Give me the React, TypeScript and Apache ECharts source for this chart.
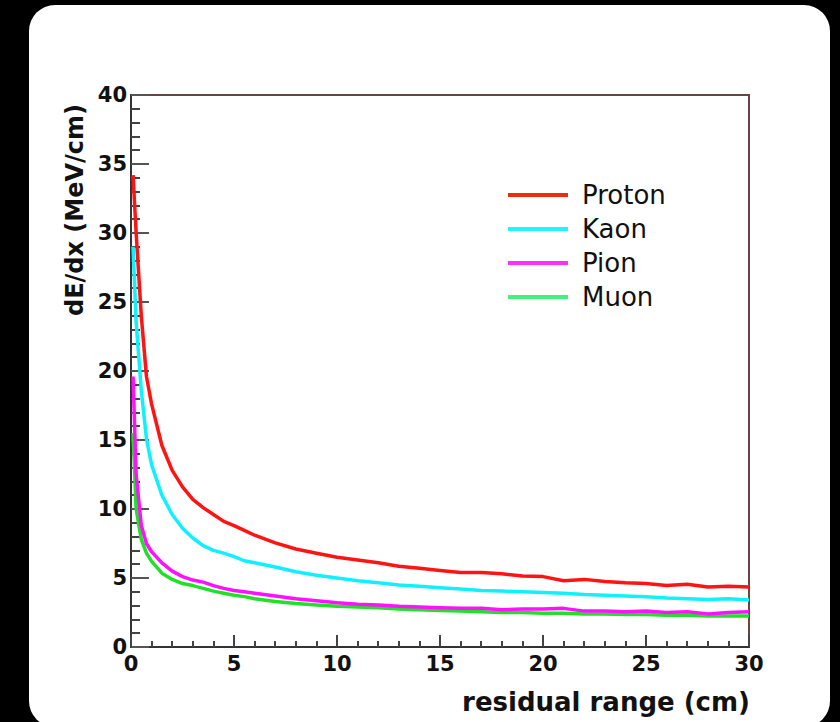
import React, { useEffect, useRef } from "react";
import * as echarts from "echarts";

const seriesNames = ["Proton", "Kaon", "Pion", "Muon"];
const rangeCm = [0.1, 0.25, 0.5, 0.75, 1, 1.5, 2, 2.5, 3, 3.5, 4, 4.5, 5, 5.5, 6, 7, 8, 9, 10, 11, 12, 13, 14, 15, 16, 17, 18, 19, 20, 21, 22, 23, 24, 25, 26, 27, 28, 29, 30];
const proton = [34.2, 30.0, 24.0, 19.6, 17.6, 14.6, 12.8, 11.6, 10.7, 10.1, 9.6, 9.1, 8.8, 8.45, 8.1, 7.55, 7.1, 6.8, 6.5, 6.3, 6.1, 5.85, 5.7, 5.55, 5.4, 5.4, 5.3, 5.15, 5.1, 4.8, 4.9, 4.75, 4.65, 4.6, 4.45, 4.55, 4.35, 4.4, 4.35];
const kaon = [29.0, 23.5, 18.6, 15.1, 13.2, 11.0, 9.6, 8.6, 7.9, 7.35, 7.0, 6.8, 6.55, 6.25, 6.1, 5.8, 5.45, 5.2, 5.0, 4.8, 4.65, 4.5, 4.4, 4.3, 4.2, 4.1, 4.05, 4.0, 3.95, 3.9, 3.8, 3.75, 3.7, 3.65, 3.55, 3.5, 3.45, 3.5, 3.4];
const pion = [19.6, 12.5, 8.8, 7.5, 6.9, 6.1, 5.5, 5.1, 4.85, 4.7, 4.45, 4.25, 4.1, 4.0, 3.9, 3.7, 3.5, 3.35, 3.2, 3.1, 3.05, 2.95, 2.9, 2.85, 2.8, 2.8, 2.7, 2.75, 2.75, 2.8, 2.6, 2.6, 2.55, 2.6, 2.5, 2.55, 2.4, 2.5, 2.55];
const muon = [15.5, 10.0, 7.8, 6.8, 6.2, 5.35, 4.9, 4.6, 4.45, 4.25, 4.05, 3.9, 3.75, 3.65, 3.5, 3.3, 3.15, 3.05, 2.95, 2.9, 2.85, 2.75, 2.7, 2.65, 2.6, 2.55, 2.5, 2.5, 2.45, 2.45, 2.4, 2.4, 2.35, 2.35, 2.3, 2.3, 2.25, 2.25, 2.25];
const colors = ["#ff1414", "#10f0ff", "#ff10ff", "#22e02a"];
const legendColors = ["#ee2a10", "#20f4ff", "#ff30ff", "#44f080"];
const xTitle = "residual range (cm)";
const yTitle = "dE/dx (MeV/cm)";

export default function App() {
  const ref = useRef<HTMLDivElement>(null);
  useEffect(() => {
    if (!ref.current) return;
    const chart = echarts.init(ref.current, null, { renderer: "svg" });
    const values = [proton, kaon, pion, muon];
    const font = "DejaVu Sans";
    const order = [3, 2, 1, 0];
    chart.setOption({
      animation: false,
      backgroundColor: "#000",
      graphic: [
        {
          type: "rect",
          z: -100,
          shape: { x: 29, y: 5, width: 801, height: 722, r: 26 },
          style: { fill: "#fff" },
        },
        {
          type: "text",
          x: 75,
          y: 210,
          rotation: Math.PI / 2,
          style: {
            text: yTitle,
            font: `bold 24px "${font}"`,
            fill: "#111",
            align: "center",
            verticalAlign: "middle",
          },
        },
        {
          type: "text",
          x: 750,
          y: 702,
          style: {
            text: xTitle,
            font: `bold 26px "${font}"`,
            fill: "#111",
            align: "right",
            verticalAlign: "middle",
          },
        },
      ],
      grid: {
        left: 131,
        right: 91,
        top: 95,
        bottom: 75,
        show: true,
        borderColor: "#6a4444",
        borderWidth: 2,
        backgroundColor: "transparent",
      },
      legend: {
        orient: "vertical",
        left: 503,
        top: 177,
        itemWidth: 60,
        itemHeight: 4,
        itemGap: 8,
        icon: "rect",
        data: seriesNames.map((n, i) => ({ name: n, itemStyle: { color: legendColors[i] } })),
        textStyle: {
          fontFamily: font,
          fontSize: 26,
          lineHeight: 26,
          color: "#111",
          padding: [0, 0, 0, 9],
        },
      },
      xAxis: {
        type: "value",
        min: 0,
        max: 30,
        interval: 5,
        splitLine: { show: false },
        axisLine: { show: true, onZero: false, lineStyle: { color: "#333", width: 2 } },
        axisTick: { show: true, inside: true, length: 12, lineStyle: { color: "#444", width: 2 } },
        minorTick: { show: true, splitNumber: 5, length: 6, lineStyle: { color: "#444", width: 2 } },
        axisLabel: { fontFamily: font, fontWeight: "bold", fontSize: 21, color: "#111", margin: 6 },
      },
      yAxis: {
        type: "value",
        min: 0,
        max: 40,
        interval: 5,
        splitLine: { show: false },
        axisLine: { show: true, onZero: false, lineStyle: { color: "#333", width: 2 } },
        axisTick: { show: true, inside: true, length: 18, lineStyle: { color: "#555", width: 2 } },
        minorTick: { show: true, splitNumber: 5, length: 9, lineStyle: { color: "#444", width: 2 } },
        axisLabel: { fontFamily: font, fontWeight: "bold", fontSize: 21, color: "#111", margin: 4 },
      },
      series: order.map((i) => ({
        name: seriesNames[i],
        type: "line",
        showSymbol: false,
        symbol: "none",
        color: colors[i],
        lineStyle: { width: 3.5, color: colors[i] },
        data: rangeCm.map((x, k) => [x, values[i][k]]),
      })),
    });
    return () => chart.dispose();
  }, []);
  return (
    <div
      ref={ref}
      style={{ position: "fixed", left: 0, top: 0, width: 840, height: 722, background: "#000" }}
    />
  );
}
